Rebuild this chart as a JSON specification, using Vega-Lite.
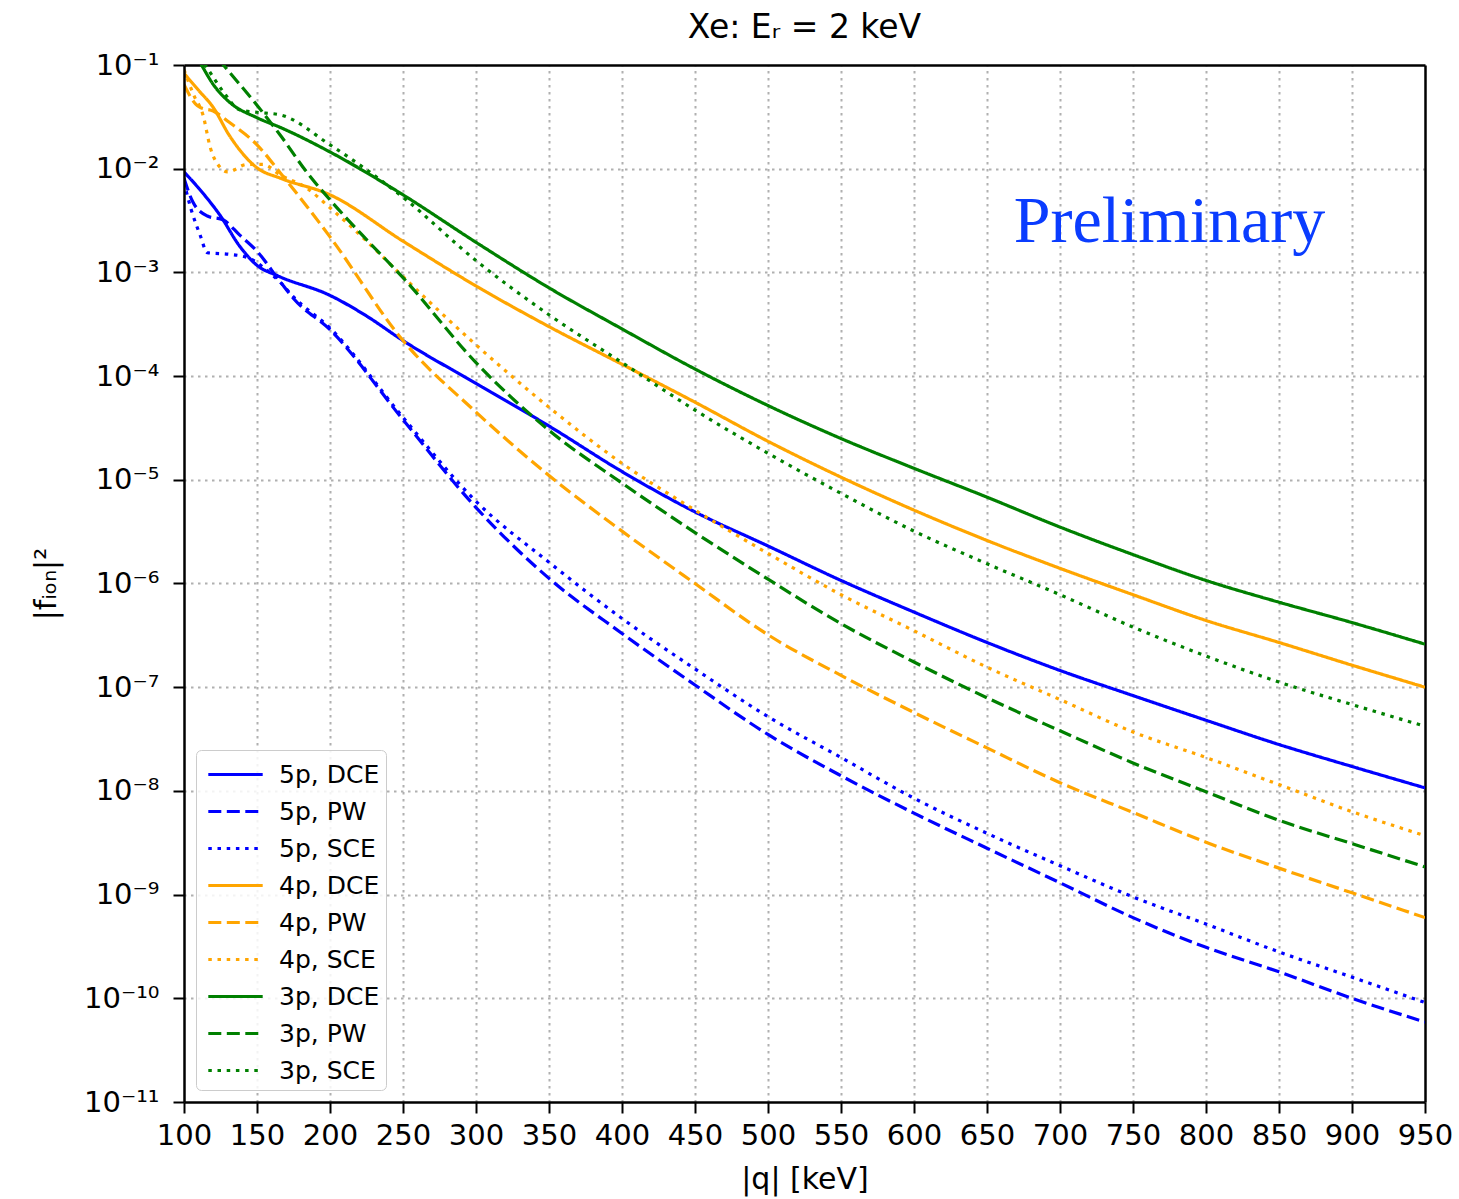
{
  "$schema": "https://vega.github.io/schema/vega-lite/v6.json",
  "autosize": {"type": "none"},
  "width": 1241,
  "height": 1037,
  "padding": {"left": 184, "top": 65, "right": 34, "bottom": 97},
  "background": "white",
  "config": {
    "font": "DejaVu Sans",
    "view": {"stroke": null},
    "axis": {
      "labelFont": "DejaVu Sans", "titleFont": "DejaVu Sans",
      "labelFontSize": 29, "titleFontSize": 30, "labelColor": "black", "titleColor": "black",
      "titleFontWeight": "normal", "tickColor": "black", "tickWidth": 2, "tickSize": 11,
      "domainColor": "black", "domainWidth": 2.5, "gridColor": "#b0b0b0", "gridWidth": 2, "gridDash": [2.5, 4.5]
    }
  },
  "title": {"text": "Xe: Eᵣ = 2 keV", "fontSize": 33, "fontWeight": "normal", "font": "DejaVu Sans", "color": "black", "offset": 6, "anchor": "middle"},
  "datasets": {
    "curves": [
      {"q":100,"v":9.3e-3,"s":"5p, DCE"},{"q":110,"v":6.5e-3,"s":"5p, DCE"},{"q":125,"v":3.5e-3,"s":"5p, DCE"},{"q":138,"v":1.8e-3,"s":"5p, DCE"},{"q":150,"v":1.17e-3,"s":"5p, DCE"},{"q":164,"v":9.3e-4,"s":"5p, DCE"},{"q":200,"v":6.0e-4,"s":"5p, DCE"},{"q":225,"v":3.8e-4,"s":"5p, DCE"},{"q":250,"v":2.2e-4,"s":"5p, DCE"},{"q":300,"v":8.5e-5,"s":"5p, DCE"},{"q":350,"v":3.3e-5,"s":"5p, DCE"},{"q":400,"v":1.2e-5,"s":"5p, DCE"},{"q":450,"v":4.9e-6,"s":"5p, DCE"},{"q":500,"v":2.3e-6,"s":"5p, DCE"},{"q":550,"v":1.07e-6,"s":"5p, DCE"},{"q":600,"v":5.3e-7,"s":"5p, DCE"},{"q":650,"v":2.7e-7,"s":"5p, DCE"},{"q":700,"v":1.45e-7,"s":"5p, DCE"},{"q":750,"v":8.3e-8,"s":"5p, DCE"},{"q":800,"v":4.8e-8,"s":"5p, DCE"},{"q":850,"v":2.8e-8,"s":"5p, DCE"},{"q":900,"v":1.72e-8,"s":"5p, DCE"},{"q":950,"v":1.07e-8,"s":"5p, DCE"},
      {"q":100,"v":8.1e-3,"s":"5p, PW"},{"q":106,"v":4.8e-3,"s":"5p, PW"},{"q":116,"v":3.5e-3,"s":"5p, PW"},{"q":127,"v":3.2e-3,"s":"5p, PW"},{"q":138,"v":2.3e-3,"s":"5p, PW"},{"q":150,"v":1.6e-3,"s":"5p, PW"},{"q":166,"v":8.1e-4,"s":"5p, PW"},{"q":175,"v":5.6e-4,"s":"5p, PW"},{"q":200,"v":2.8e-4,"s":"5p, PW"},{"q":250,"v":3.8e-5,"s":"5p, PW"},{"q":300,"v":5.4e-6,"s":"5p, PW"},{"q":350,"v":1.12e-6,"s":"5p, PW"},{"q":400,"v":3.3e-7,"s":"5p, PW"},{"q":450,"v":1.05e-7,"s":"5p, PW"},{"q":500,"v":3.5e-8,"s":"5p, PW"},{"q":550,"v":1.4e-8,"s":"5p, PW"},{"q":600,"v":6.1e-9,"s":"5p, PW"},{"q":650,"v":2.8e-9,"s":"5p, PW"},{"q":700,"v":1.3e-9,"s":"5p, PW"},{"q":750,"v":6.0e-10,"s":"5p, PW"},{"q":800,"v":3.1e-10,"s":"5p, PW"},{"q":850,"v":1.8e-10,"s":"5p, PW"},{"q":900,"v":1.0e-10,"s":"5p, PW"},{"q":950,"v":5.9e-11,"s":"5p, PW"},
      {"q":100,"v":7.4e-3,"s":"5p, SCE"},{"q":105,"v":4.0e-3,"s":"5p, SCE"},{"q":111,"v":2.3e-3,"s":"5p, SCE"},{"q":116,"v":1.55e-3,"s":"5p, SCE"},{"q":130,"v":1.5e-3,"s":"5p, SCE"},{"q":143,"v":1.4e-3,"s":"5p, SCE"},{"q":155,"v":1.1e-3,"s":"5p, SCE"},{"q":166,"v":8.0e-4,"s":"5p, SCE"},{"q":175,"v":5.8e-4,"s":"5p, SCE"},{"q":200,"v":2.9e-4,"s":"5p, SCE"},{"q":250,"v":4.0e-5,"s":"5p, SCE"},{"q":300,"v":6.2e-6,"s":"5p, SCE"},{"q":350,"v":1.6e-6,"s":"5p, SCE"},{"q":400,"v":4.6e-7,"s":"5p, SCE"},{"q":450,"v":1.5e-7,"s":"5p, SCE"},{"q":500,"v":5.2e-8,"s":"5p, SCE"},{"q":550,"v":2.1e-8,"s":"5p, SCE"},{"q":600,"v":8.5e-9,"s":"5p, SCE"},{"q":650,"v":3.9e-9,"s":"5p, SCE"},{"q":700,"v":1.9e-9,"s":"5p, SCE"},{"q":750,"v":9.5e-10,"s":"5p, SCE"},{"q":800,"v":5.2e-10,"s":"5p, SCE"},{"q":850,"v":2.8e-10,"s":"5p, SCE"},{"q":900,"v":1.6e-10,"s":"5p, SCE"},{"q":950,"v":9.1e-11,"s":"5p, SCE"},
      {"q":100,"v":8.3e-2,"s":"4p, DCE"},{"q":110,"v":5.7e-2,"s":"4p, DCE"},{"q":120,"v":3.9e-2,"s":"4p, DCE"},{"q":131,"v":2.1e-2,"s":"4p, DCE"},{"q":150,"v":1.02e-2,"s":"4p, DCE"},{"q":166,"v":8.1e-3,"s":"4p, DCE"},{"q":200,"v":5.6e-3,"s":"4p, DCE"},{"q":250,"v":2.0e-3,"s":"4p, DCE"},{"q":300,"v":7.4e-4,"s":"4p, DCE"},{"q":350,"v":3.0e-4,"s":"4p, DCE"},{"q":400,"v":1.3e-4,"s":"4p, DCE"},{"q":450,"v":5.6e-5,"s":"4p, DCE"},{"q":500,"v":2.35e-5,"s":"4p, DCE"},{"q":550,"v":1.06e-5,"s":"4p, DCE"},{"q":600,"v":5.1e-6,"s":"4p, DCE"},{"q":650,"v":2.6e-6,"s":"4p, DCE"},{"q":700,"v":1.4e-6,"s":"4p, DCE"},{"q":750,"v":7.8e-7,"s":"4p, DCE"},{"q":800,"v":4.4e-7,"s":"4p, DCE"},{"q":850,"v":2.7e-7,"s":"4p, DCE"},{"q":900,"v":1.63e-7,"s":"4p, DCE"},{"q":950,"v":1.0e-7,"s":"4p, DCE"},
      {"q":100,"v":6.5e-2,"s":"4p, PW"},{"q":108,"v":4.2e-2,"s":"4p, PW"},{"q":111,"v":3.9e-2,"s":"4p, PW"},{"q":120,"v":3.6e-2,"s":"4p, PW"},{"q":131,"v":2.8e-2,"s":"4p, PW"},{"q":150,"v":1.7e-2,"s":"4p, PW"},{"q":166,"v":9.1e-3,"s":"4p, PW"},{"q":200,"v":2.2e-3,"s":"4p, PW"},{"q":250,"v":2.2e-4,"s":"4p, PW"},{"q":300,"v":4.5e-5,"s":"4p, PW"},{"q":350,"v":1.1e-5,"s":"4p, PW"},{"q":400,"v":3.2e-6,"s":"4p, PW"},{"q":450,"v":1.0e-6,"s":"4p, PW"},{"q":500,"v":3.2e-7,"s":"4p, PW"},{"q":550,"v":1.3e-7,"s":"4p, PW"},{"q":600,"v":5.7e-8,"s":"4p, PW"},{"q":650,"v":2.6e-8,"s":"4p, PW"},{"q":700,"v":1.2e-8,"s":"4p, PW"},{"q":750,"v":6.2e-9,"s":"4p, PW"},{"q":800,"v":3.2e-9,"s":"4p, PW"},{"q":850,"v":1.8e-9,"s":"4p, PW"},{"q":900,"v":1.04e-9,"s":"4p, PW"},{"q":950,"v":6.0e-10,"s":"4p, PW"},
      {"q":100,"v":9.0e-2,"s":"4p, SCE"},{"q":107,"v":5.0e-2,"s":"4p, SCE"},{"q":113,"v":3.3e-2,"s":"4p, SCE"},{"q":118,"v":1.6e-2,"s":"4p, SCE"},{"q":125,"v":1.02e-2,"s":"4p, SCE"},{"q":130,"v":9.3e-3,"s":"4p, SCE"},{"q":143,"v":1.1e-2,"s":"4p, SCE"},{"q":154,"v":1.1e-2,"s":"4p, SCE"},{"q":166,"v":8.7e-3,"s":"4p, SCE"},{"q":184,"v":6.5e-3,"s":"4p, SCE"},{"q":200,"v":4.2e-3,"s":"4p, SCE"},{"q":222,"v":2.2e-3,"s":"4p, SCE"},{"q":250,"v":9.1e-4,"s":"4p, SCE"},{"q":300,"v":2.0e-4,"s":"4p, SCE"},{"q":350,"v":5.0e-5,"s":"4p, SCE"},{"q":400,"v":1.44e-5,"s":"4p, SCE"},{"q":450,"v":5.1e-6,"s":"4p, SCE"},{"q":500,"v":1.95e-6,"s":"4p, SCE"},{"q":550,"v":7.8e-7,"s":"4p, SCE"},{"q":600,"v":3.5e-7,"s":"4p, SCE"},{"q":650,"v":1.56e-7,"s":"4p, SCE"},{"q":700,"v":7.6e-8,"s":"4p, SCE"},{"q":750,"v":3.7e-8,"s":"4p, SCE"},{"q":800,"v":2.1e-8,"s":"4p, SCE"},{"q":850,"v":1.15e-8,"s":"4p, SCE"},{"q":900,"v":6.3e-9,"s":"4p, SCE"},{"q":950,"v":3.7e-9,"s":"4p, SCE"},
      {"q":100,"v":2.0e-1,"s":"3p, DCE"},{"q":112,"v":1.0e-1,"s":"3p, DCE"},{"q":120,"v":6.5e-2,"s":"3p, DCE"},{"q":131,"v":4.4e-2,"s":"3p, DCE"},{"q":150,"v":3.1e-2,"s":"3p, DCE"},{"q":166,"v":2.5e-2,"s":"3p, DCE"},{"q":200,"v":1.45e-2,"s":"3p, DCE"},{"q":250,"v":5.6e-3,"s":"3p, DCE"},{"q":300,"v":1.95e-3,"s":"3p, DCE"},{"q":350,"v":7.1e-4,"s":"3p, DCE"},{"q":400,"v":2.85e-4,"s":"3p, DCE"},{"q":450,"v":1.17e-4,"s":"3p, DCE"},{"q":500,"v":5.2e-5,"s":"3p, DCE"},{"q":550,"v":2.5e-5,"s":"3p, DCE"},{"q":600,"v":1.29e-5,"s":"3p, DCE"},{"q":650,"v":6.8e-6,"s":"3p, DCE"},{"q":700,"v":3.5e-6,"s":"3p, DCE"},{"q":750,"v":1.9e-6,"s":"3p, DCE"},{"q":800,"v":1.07e-6,"s":"3p, DCE"},{"q":850,"v":6.6e-7,"s":"3p, DCE"},{"q":900,"v":4.2e-7,"s":"3p, DCE"},{"q":950,"v":2.6e-7,"s":"3p, DCE"},
      {"q":100,"v":3.0e-1,"s":"3p, PW"},{"q":127,"v":1.0e-1,"s":"3p, PW"},{"q":150,"v":4.1e-2,"s":"3p, PW"},{"q":166,"v":2.1e-2,"s":"3p, PW"},{"q":184,"v":9.3e-3,"s":"3p, PW"},{"q":200,"v":5.0e-3,"s":"3p, PW"},{"q":222,"v":2.3e-3,"s":"3p, PW"},{"q":250,"v":8.9e-4,"s":"3p, PW"},{"q":300,"v":1.35e-4,"s":"3p, PW"},{"q":350,"v":3.0e-5,"s":"3p, PW"},{"q":400,"v":9.3e-6,"s":"3p, PW"},{"q":450,"v":3.1e-6,"s":"3p, PW"},{"q":500,"v":1.1e-6,"s":"3p, PW"},{"q":550,"v":4.1e-7,"s":"3p, PW"},{"q":600,"v":1.75e-7,"s":"3p, PW"},{"q":650,"v":7.9e-8,"s":"3p, PW"},{"q":700,"v":3.8e-8,"s":"3p, PW"},{"q":750,"v":1.86e-8,"s":"3p, PW"},{"q":800,"v":9.8e-9,"s":"3p, PW"},{"q":850,"v":5.2e-9,"s":"3p, PW"},{"q":900,"v":3.1e-9,"s":"3p, PW"},{"q":950,"v":1.85e-9,"s":"3p, PW"},
      {"q":100,"v":2.0e-1,"s":"3p, SCE"},{"q":116,"v":9.3e-2,"s":"3p, SCE"},{"q":127,"v":5.5e-2,"s":"3p, SCE"},{"q":138,"v":3.7e-2,"s":"3p, SCE"},{"q":150,"v":3.5e-2,"s":"3p, SCE"},{"q":166,"v":3.3e-2,"s":"3p, SCE"},{"q":200,"v":1.7e-2,"s":"3p, SCE"},{"q":250,"v":5.3e-3,"s":"3p, SCE"},{"q":300,"v":1.3e-3,"s":"3p, SCE"},{"q":350,"v":3.9e-4,"s":"3p, SCE"},{"q":400,"v":1.35e-4,"s":"3p, SCE"},{"q":450,"v":4.7e-5,"s":"3p, SCE"},{"q":500,"v":1.8e-5,"s":"3p, SCE"},{"q":550,"v":7.4e-6,"s":"3p, SCE"},{"q":600,"v":3.2e-6,"s":"3p, SCE"},{"q":650,"v":1.55e-6,"s":"3p, SCE"},{"q":700,"v":7.8e-7,"s":"3p, SCE"},{"q":750,"v":3.8e-7,"s":"3p, SCE"},{"q":800,"v":2.0e-7,"s":"3p, SCE"},{"q":850,"v":1.12e-7,"s":"3p, SCE"},{"q":900,"v":6.8e-8,"s":"3p, SCE"},{"q":950,"v":4.2e-8,"s":"3p, SCE"}
    ]
  },
  "layer": [
    {
      "data": {"name": "curves"},
      "mark": {"type": "line", "strokeWidth": 3.2, "clip": true, "interpolate": "monotone"},
      "encoding": {
        "x": {"field": "q", "type": "quantitative",
          "scale": {"domain": [100, 950], "nice": false, "zero": false},
          "axis": {"orient": "bottom", "values": [100,150,200,250,300,350,400,450,500,550,600,650,700,750,800,850,900,950], "title": "|q| [keV]", "labelPadding": 8, "titlePadding": 14, "labelFlush": false, "grid": false, "domain": true, "zindex": 1}},
        "y": {"field": "v", "type": "quantitative",
          "scale": {"type": "log", "domain": [1e-11, 1e-1], "nice": false},
          "axis": {"orient": "left", "values": [1e-1,1e-2,1e-3,1e-4,1e-5,1e-6,1e-7,1e-8,1e-9,1e-10,1e-11], "title": "|fᵢₒₙ|²", "labelPadding": 14, "titlePadding": 22, "grid": false, "domain": true, "zindex": 1,
            "labelExpr": "'10⁻' + (round(-log(datum.value)/LN10) >= 10 ? '¹' : '') + ['⁰','¹','²','³','⁴','⁵','⁶','⁷','⁸','⁹'][round(-log(datum.value)/LN10) % 10]"}},
        "color": {"field": "s", "type": "nominal",
          "scale": {"domain": ["5p, DCE","5p, PW","5p, SCE","4p, DCE","4p, PW","4p, SCE","3p, DCE","3p, PW","3p, SCE"],
                    "range": ["#0000ff","#0000ff","#0000ff","#ffa500","#ffa500","#ffa500","#008000","#008000","#008000"]},
          "legend": {"title": null, "orient": "bottom-left", "offset": 12, "labelFontSize": 25, "labelFont": "DejaVu Sans", "labelColor": "black",
            "symbolType": "M-1.6,0L1.6,0", "symbolSize": 1156, "symbolStrokeWidth": 3, "symbolOffset": 15, "labelOffset": 25,
            "rowPadding": 5, "padding": 6, "fillColor": "rgba(255,255,255,0.85)", "strokeColor": "#cccccc", "cornerRadius": 5}},
        "strokeDash": {"field": "s", "type": "nominal",
          "scale": {"domain": ["5p, DCE","5p, PW","5p, SCE","4p, DCE","4p, PW","4p, SCE","3p, DCE","3p, PW","3p, SCE"],
                    "range": [[1,0],[13,5.5],[3.5,5.7],[1,0],[13,5.5],[3.5,5.7],[1,0],[13,5.5],[3.5,5.7]]},
          "legend": {"title": null}}
      }
    },
    {
      "data": {"values": [{}]},
      "mark": {"type": "text", "text": "Preliminary", "font": "Liberation Serif", "fontSize": 66, "color": "#0a3cff", "align": "center", "baseline": "alphabetic"},
      "encoding": {
        "x": {"datum": 775, "type": "quantitative",
          "axis": {"orient": "top", "values": [150,200,250,300,350,400,450,500,550,600,650,700,750,800,850,900], "labels": false, "ticks": false, "title": null, "grid": true, "domain": true, "zindex": 0}},
        "y": {"datum": 0.00196, "type": "quantitative",
          "axis": {"orient": "right", "values": [1e-2,1e-3,1e-4,1e-5,1e-6,1e-7,1e-8,1e-9,1e-10], "labels": false, "ticks": false, "title": null, "grid": true, "domain": true, "zindex": 0}}
      }
    }
  ]
}
